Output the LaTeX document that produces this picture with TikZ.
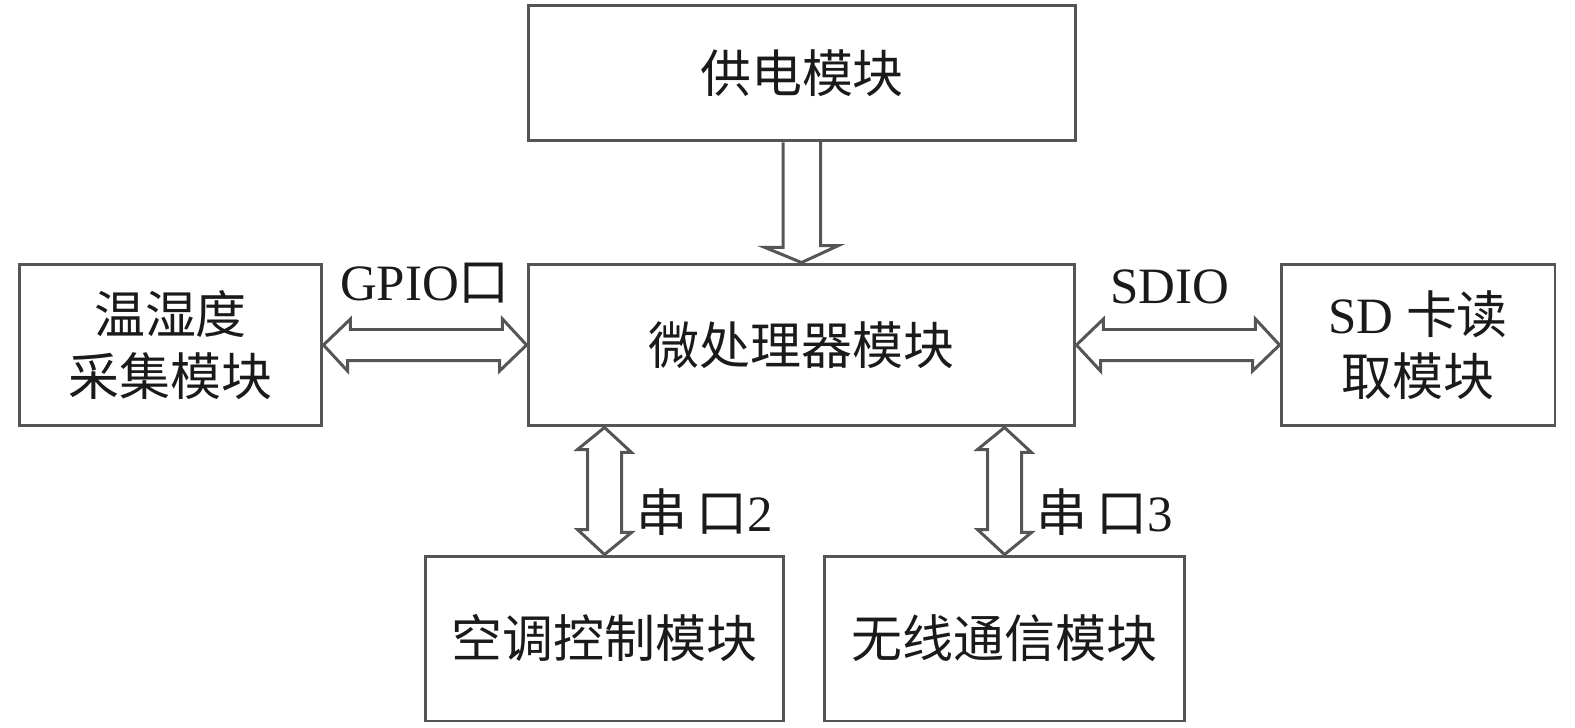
\documentclass[tikz,border=0pt]{standalone}
\usepackage{fontspec}
\setmainfont{Liberation Serif}
\newfontfamily\cjk{Noto Sans CJK SC}
\usetikzlibrary{calc}
\definecolor{linegray}{HTML}{555555}
\definecolor{textgray}{HTML}{1A1A1A}
\tikzset{
  box/.style={draw=linegray, line width=1.7pt, inner sep=0pt, align=center, text=textgray},
  fat/.style={draw=linegray, line width=1.7pt, line join=miter},
  lbl/.style={inner sep=0pt, text=textgray}
}
\begin{document}
\begin{tikzpicture}[x=0.02cm, y=-0.02cm, every node/.style={font=\fontsize{29pt}{35pt}\selectfont}]
\useasboundingbox (0,0) rectangle (1575,727);
\node[box, minimum width=10.96cm, minimum height=2.72cm] (pwr) at (802, 73) {\cjk 供电模块};
\node[box, minimum width=10.94cm, minimum height=3.24cm] (mcu) at (801.5, 345) {\cjk 微处理器模块};
\node[box, minimum width=6.06cm, minimum height=3.24cm] (sensor) at (170.5, 345) {\cjk 温湿度\\\cjk 采集模块};
\node[box, minimum width=5.48cm, minimum height=3.24cm] (sd) at (1418, 345) {SD {\cjk 卡读}\\\cjk 取模块};
\node[box, minimum width=7.18cm, minimum height=3.3cm] (ac) at (604.5, 638.5) {\cjk 空调控制模块};
\node[box, minimum width=7.22cm, minimum height=3.3cm] (wl) at (1004.5, 638.5) {\cjk 无线通信模块};

\node[lbl] (gpio) at (425, 283) {GPIO{\cjk 口}};
\node[lbl] (sdio) at (1170, 287) {SDIO};
\node[lbl] (uart2) at (705, 512) {{\cjk 串\hspace{5pt}口}2};
\node[lbl] (uart3) at (1105, 512) {{\cjk 串\hspace{5pt}口}3};

% power -> mcu
\draw[fat] ($(pwr.south)+(-19,0)$) -- ++(0,105) -- ++(-18,0) -- (mcu.north)
  -- ++(37,-17) -- ++(-18,0) -- ++(0,-105);

% sensor <-> mcu
\draw[fat] (sensor.east) -- ++(27,-26) -- ++(0,10.5) -- ++(152,0) -- ++(0,-10.5)
  -- (mcu.west) -- ++(-27,26) -- ++(0,-10.5) -- ++(-152,0) -- ++(0,10.5) -- cycle;

% mcu <-> sd
\draw[fat] (mcu.east) -- ++(27,-26) -- ++(0,10.5) -- ++(152,0) -- ++(0,-10.5)
  -- (sd.west) -- ++(-27,26) -- ++(0,-10.5) -- ++(-152,0) -- ++(0,10.5) -- cycle;

% mcu <-> ac
\draw[fat] (mcu.south -| ac.north) -- ++(27,25) -- ++(-10,0) -- ++(0,80) -- ++(10,0)
  -- (ac.north) -- ++(-27,-25) -- ++(10,0) -- ++(0,-80) -- ++(-10,0) -- cycle;

% mcu <-> wireless
\draw[fat] (mcu.south -| wl.north) -- ++(27,25) -- ++(-10,0) -- ++(0,80) -- ++(10,0)
  -- (wl.north) -- ++(-27,-25) -- ++(10,0) -- ++(0,-80) -- ++(-10,0) -- cycle;
\end{tikzpicture}
\end{document}
